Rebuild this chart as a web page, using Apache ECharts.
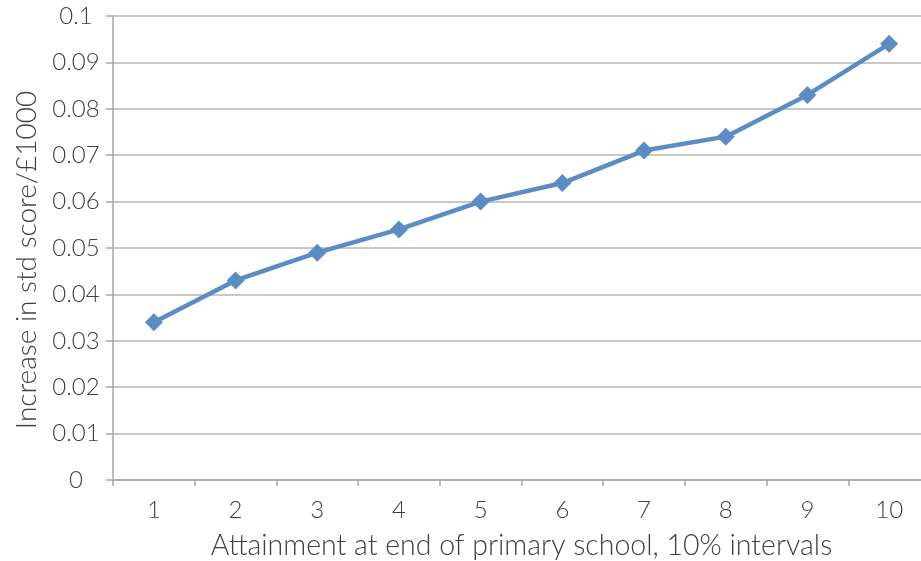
<!DOCTYPE html>
<html>
<head>
<meta charset="utf-8">
<script src="https://cdn.jsdelivr.net/npm/echarts@6/dist/echarts.min.js"></script>
<style>
html,body{margin:0;padding:0;background:#fff;}
#chart{width:921px;height:561px;}
</style>
</head>
<body>
<div id="chart"></div>
<script>
// Attainment deciles and the gain in standardised score per £1000
const deciles = ['1', '2', '3', '4', '5', '6', '7', '8', '9', '10'];
const increasePer1000 = [0.034, 0.043, 0.049, 0.054, 0.060, 0.064, 0.071, 0.074, 0.083, 0.094];
const yTicks = [0, 0.01, 0.02, 0.03, 0.04, 0.05, 0.06, 0.07, 0.08, 0.09, 0.1];

const font = 'Lato, "Open Sans", sans-serif';
const textColor = '#404040';
const chart = echarts.init(document.getElementById('chart'));
chart.setOption({
  animation: false,
  // the last category cell runs past the right edge of the canvas
  grid: { left: 113, right: -9, top: 16, bottom: 81, outerBoundsMode: 'none', containLabel: false },
  xAxis: {
    type: 'category',
    data: deciles,
    boundaryGap: true,
    name: 'Attainment at end of primary school, 10% intervals',
    nameLocation: 'middle',
    nameGap: 51,
    nameTextStyle: { fontFamily: font, fontSize: 28.5, fontWeight: 300, color: textColor, padding: [0, 0, 0, 0] },
    axisLine: { lineStyle: { color: '#a8a8a8', width: 1.5 } },
    axisTick: { show: true, length: 6, lineStyle: { color: '#a8a8a8', width: 1.5 } },
    axisLabel: { fontFamily: font, fontSize: 24, fontWeight: 300, color: textColor, margin: 18 }
  },
  yAxis: {
    type: 'value',
    min: 0,
    max: 0.1,
    interval: 0.01,
    name: 'Increase in std score/£1000',
    nameLocation: 'middle',
    nameGap: 71,
    nameTextStyle: { fontFamily: font, fontSize: 28, fontWeight: 300, color: textColor, padding: [0, 24, 0, 0] },
    axisLine: { show: true, lineStyle: { color: '#a8a8a8', width: 1.5 } },
    axisTick: { show: true, length: 7, lineStyle: { color: '#a8a8a8', width: 1.5 } },
    splitLine: { lineStyle: { color: '#b4b4b4', width: 1.5 } },
    axisLabel: {
      fontFamily: font, fontSize: 24, fontWeight: 300, color: textColor,
      align: 'center', margin: 37,
      formatter: v => {
        const t = yTicks.find(x => Math.abs(x - v) < 1e-9);
        return String(t !== undefined ? t : v);
      }
    }
  },
  series: [{
    type: 'line',
    data: increasePer1000,
    symbol: 'diamond',
    symbolSize: 18,
    itemStyle: { color: '#5B8DC5' },
    lineStyle: { color: '#5B8DC5', width: 4.5 }
  }]
});
</script>
</body>
</html>
